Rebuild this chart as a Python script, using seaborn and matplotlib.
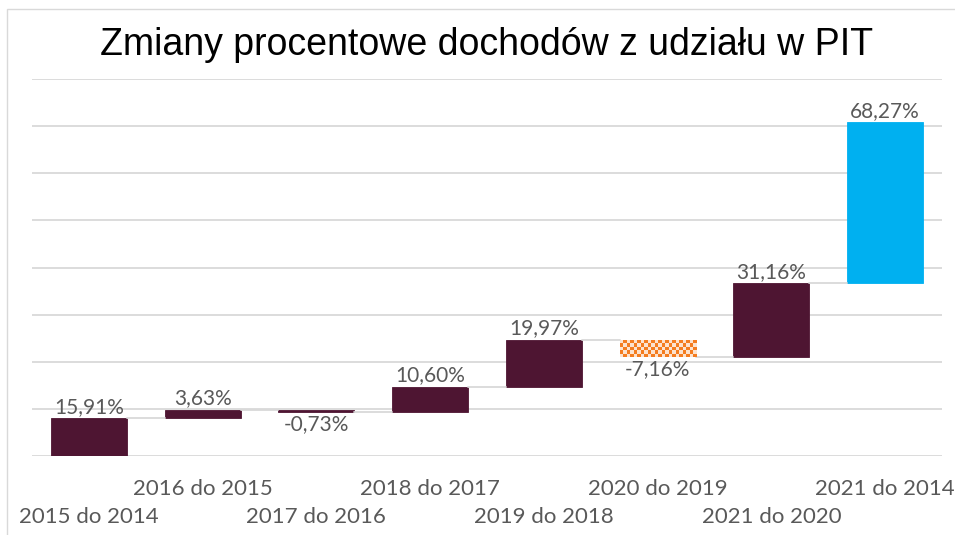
import numpy as np
import pandas as pd
import matplotlib
matplotlib.use("Agg")
import matplotlib.pyplot as plt
from matplotlib.colors import ListedColormap
from matplotlib.patches import Rectangle
import seaborn as sns

# --- data ---
categories = ["2015 do 2014", "2016 do 2015", "2017 do 2016", "2018 do 2017",
              "2019 do 2018", "2020 do 2019", "2021 do 2020", "2021 do 2014"]
changes = [15.91, 3.63, -0.73, 10.60, 19.97, -7.16, 31.16, 68.27]
labels = ["15,91%", "3,63%", "-0,73%", "10,60%", "19,97%", "-7,16%", "31,16%", "68,27%"]
kinds = ["up", "up", "down", "up", "up", "drop", "up", "total"]

MAROON = "#4E1532"
BLUE = "#00B0F0"
ORANGE = "#F47D20"
GRID_C = "#D9D9D9"
TXT = "#595959"
COLORS = {"up": MAROON, "down": MAROON, "drop": ORANGE, "total": BLUE}

# waterfall bases: each step starts where the previous ended;
# the total bar sits on top of the running sum
steps = np.array(changes[:-1])
ends = np.cumsum(steps)
starts = np.concatenate([[0], ends[:-1]])
bottoms = list(starts) + [ends[-1]]

df = pd.DataFrame({"cat": categories, "h": changes, "bottom": bottoms, "kind": kinds})

sns.set_theme(style="white")
plt.rcParams["font.family"] = ["Lato", "DejaVu Sans"]

fig = plt.figure(figsize=(9.55, 5.35), dpi=100)
ax = fig.add_axes([0.0335, 0.1477, 0.9529, 0.7046])

sns.barplot(data=df, x="cat", y="h", bottom=df["bottom"].values, color=MAROON,
            width=0.67, ax=ax, linewidth=0, saturation=1)

ax.set_xlim(-0.5, len(categories) - 0.5)
ax.set_ylim(0, 160)

for patch, kind in zip(ax.patches, df["kind"]):
    patch.set_facecolor(COLORS[kind])
    patch.set_edgecolor(COLORS[kind])
    patch.set_linewidth(0.6)

# checkerboard fill for the big drop
fig.canvas.draw()
for patch, kind in zip(ax.patches, df["kind"]):
    if kind != "drop":
        continue
    x0, y0 = patch.get_x(), patch.get_y()
    x1, y1 = x0 + patch.get_width(), y0 + patch.get_height()
    p0 = ax.transData.transform((x0, min(y0, y1)))
    p1 = ax.transData.transform((x1, max(y0, y1)))
    nx = max(2, int(round((p1[0] - p0[0]) / 3.5)))
    ny = max(2, int(round((p1[1] - p0[1]) / 3.5)))
    board = np.indices((ny, nx)).sum(axis=0) % 2
    patch.set_facecolor("none")
    patch.set_edgecolor("none")
    im = ax.imshow(board, cmap=ListedColormap(["#FCE3CF", ORANGE]),
                   extent=(x0, x1, min(y0, y1), max(y0, y1)),
                   aspect="auto", interpolation="nearest", zorder=2)
    im.set_clip_path(patch)

ax.set_xlim(-0.5, len(categories) - 0.5)
ax.set_ylim(0, 160)

# connector lines
w = 0.67
for i in range(len(categories) - 1):
    level = bottoms[i] + changes[i]
    ax.plot([i + w / 2, i + 1 - w / 2], [level, level], color=GRID_C, lw=1.3, zorder=1)

# value labels
for i, (h, b, lab) in enumerate(zip(changes, bottoms, labels)):
    if h >= 0:
        ax.annotate(lab, (i, b + h), xytext=(0, 1), textcoords="offset points",
                    ha="center", va="bottom", fontsize=15, color=TXT)
    else:
        ax.annotate(lab, (i, b + h), xytext=(0, -2), textcoords="offset points",
                    ha="center", va="top", fontsize=15, color=TXT)

ax.set_yticks(np.arange(0, 161, 20))
ax.set_yticklabels([])
ax.grid(axis="y", color=GRID_C, lw=1.3)
ax.set_axisbelow(True)
ax.tick_params(axis="both", length=0)
for s in ax.spines.values():
    s.set_visible(False)
ax.set_xlabel("")
ax.set_ylabel("")

ax.set_xticks(range(len(categories)))
ax.set_xticklabels(categories, fontsize=16, color=TXT)
for i, t in enumerate(ax.xaxis.get_major_ticks()):
    t.set_pad(37 if i % 2 == 0 else 16.5)

fig.text(0.51, 0.915, "Zmiany procentowe dochodów z udziału w PIT",
         ha="center", va="center", fontsize=27, color="black",
         family=["Liberation Sans", "DejaVu Sans"])

# slide frame (top and left edge)
fig.patches.append(Rectangle((7 / 955, -0.1), 1.2, 1.0832, transform=fig.transFigure,
                             fill=False, edgecolor="#D9D9D9", lw=1))

fig.savefig("out.png", dpi=100)
